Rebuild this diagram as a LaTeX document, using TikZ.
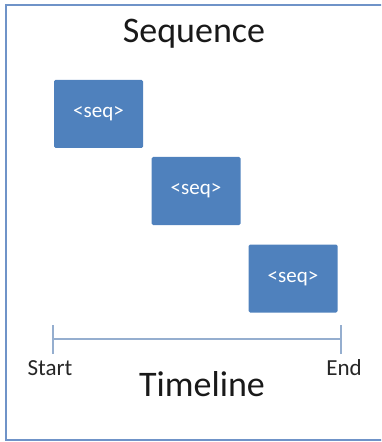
\documentclass[tikz,border=0pt]{standalone}
\usepackage{fontspec}
\setmainfont{Carlito}
\usetikzlibrary{positioning}

\definecolor{seqblue}{HTML}{4F81BD}
\definecolor{framebl}{HTML}{6F93C8}
\definecolor{linebl}{HTML}{95AECF}

\tikzset{
  seqbox/.style={fill=seqblue, rounded corners=1.5bp, minimum width=89bp,
    minimum height=68bp, inner sep=0pt, text=white,
    font=\fontsize{21bp}{24bp}\selectfont},
  ticklabel/.style={font=\fontsize{23bp}{26bp}\selectfont, text=black!85},
  titletext/.style={font=\fontsize{36bp}{40bp}\selectfont, text=black!90}
}

\begin{document}
\begin{tikzpicture}[x=1bp, y=-1bp]
    \useasboundingbox (0,0) rectangle (381,442);
    \begin{scope}
    \clip (0,0) rectangle (381,442);
    % Frame
    \draw[framebl, line width=2.5bp] (6,5) rectangle (386,440);
    \end{scope}

    \node[titletext] (title) at (194,34) {Sequence};

    % Sequence blocks
    \node[seqbox] (seqA) at (98.5,114) {<seq>};
    \node[seqbox] (seqB) at (196,191) {<seq>};
    \node[seqbox] (seqC) at (293,278.5) {<seq>};

    % Timeline
    \coordinate (tStart) at (53,339);
    \coordinate (tEnd) at (341,339);
    \draw[linebl, line width=1.5bp] (tStart) -- (tEnd);
    \draw[linebl, line width=1.5bp] ([yshift=-15bp]tStart) -- ([yshift=14bp]tStart);
    \draw[linebl, line width=1.5bp] ([yshift=-15bp]tEnd) -- ([yshift=14bp]tEnd);

    \node[ticklabel] (startlbl) at (50,368) {Start};
    \node[ticklabel] (endlbl) at (344,368) {End};
    \node[titletext] (timeline) at (202,384) {Timeline};
\end{tikzpicture}
\end{document}
